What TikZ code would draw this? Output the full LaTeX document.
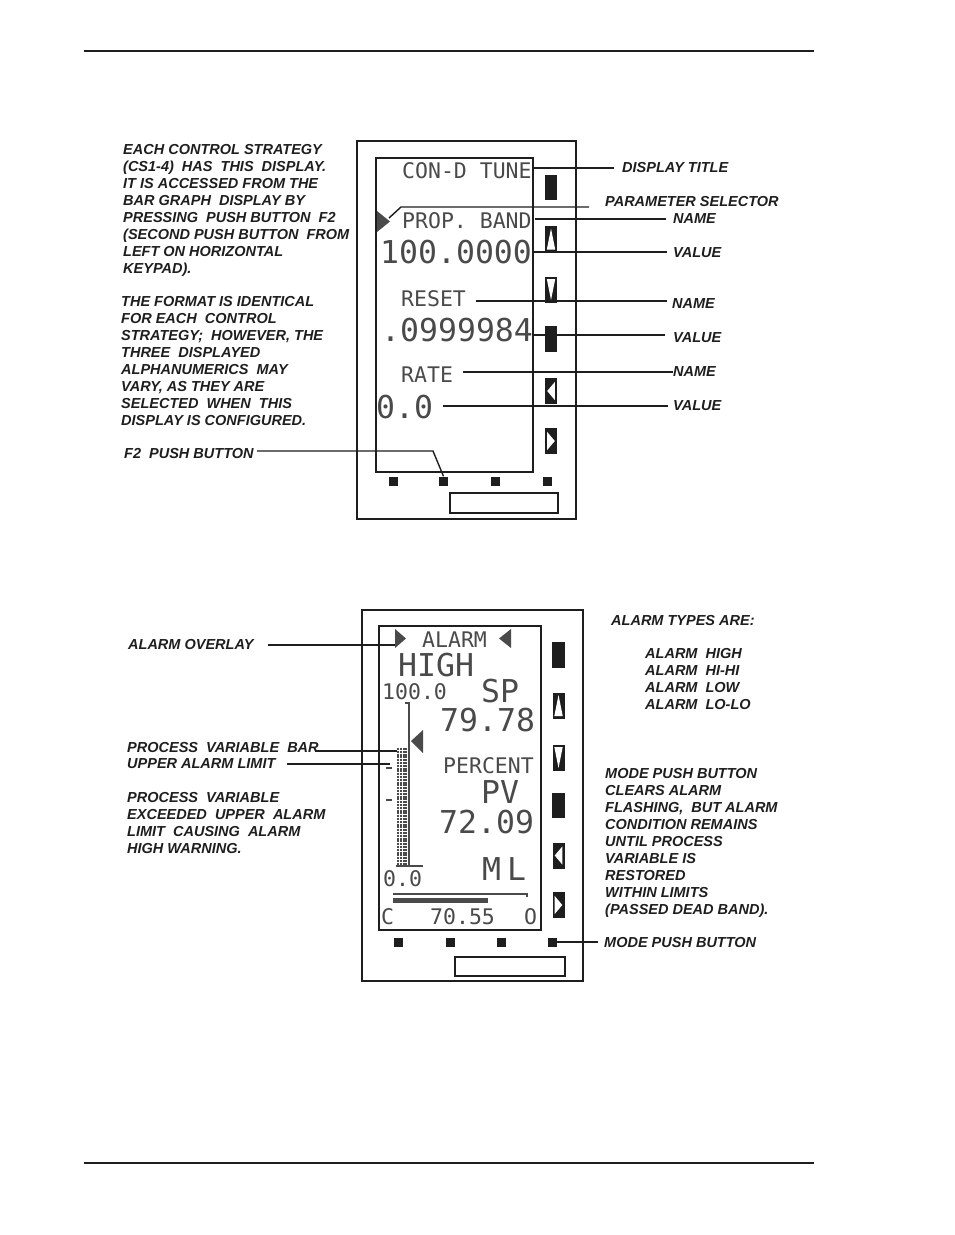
\documentclass[tikz,border=0pt]{standalone}
\usepackage{fontspec}
\setmainfont{Liberation Sans}
\newfontfamily\lcdfont{DejaVu Sans Mono}
\definecolor{ink}{HTML}{1E1E1E}
\definecolor{lcd}{HTML}{4A4A4A}
\newcommand\lblfont{\fontsize{14.5}{17}\selectfont\bfseries\itshape}
\tikzset{
  lbl/.style={font=\lblfont, inner sep=0pt, anchor=west, text height=10.4pt, text depth=0pt, text=ink},
  para/.style={font=\lblfont, inner sep=0pt, anchor=north west, align=left, text=ink},
  lcds/.style={font=\lcdfont\fontsize{21.5}{21.5}\selectfont, inner sep=0pt, anchor=west, text height=15.6pt, text depth=0pt, text=lcd},
  lcdb/.style={font=\lcdfont\fontsize{31.5}{31.5}\selectfont, inner sep=0pt, anchor=west, text height=23pt, text depth=0pt, text=lcd},
  devframe/.style={draw=ink, line width=1.5pt},
  leader/.style={draw=ink, line width=1.4pt},
  lcdline/.style={draw=lcd, line width=1.3pt},
  sq/.style={fill=ink, minimum width=9pt, minimum height=9pt, inner sep=0pt},
  upbtn/.pic={\fill[ink] (-6,-13) rectangle (6,13); \fill[white] (0,-10.5) -- (4.2,10.5) -- (-4.2,10.5) -- cycle;},
  dnbtn/.pic={\fill[ink] (-6,-13) rectangle (6,13); \fill[white] (0,10.5) -- (4.2,-10.5) -- (-4.2,-10.5) -- cycle;},
  ltbtn/.pic={\fill[ink] (-6,-13) rectangle (6,13); \fill[white] (-3.8,0) -- (3.8,-9) -- (3.8,9) -- cycle;},
  rtbtn/.pic={\fill[ink] (-6,-13) rectangle (6,13); \fill[white] (3.8,0) -- (-3.8,-9) -- (-3.8,9) -- cycle;},
}
\begin{document}
\begin{tikzpicture}[x=1pt,y=-1pt]
\useasboundingbox (0,0) rectangle (954,1235);
\fill[white] (0,0) rectangle (954,1235);
% page rules
\draw[ink, line width=2pt] (84,51) -- (814,51);
\draw[ink, line width=2pt] (84,1163) -- (814,1163);

% ================= TOP DEVICE =================
\draw[devframe] (357,141) rectangle (576,519);
\draw[devframe] (376,158) rectangle (533,472);
\fill[ink] (545,175) rectangle (557,200);
\pic at (551,239) {upbtn};
\pic at (551,289.5) {dnbtn};
\fill[ink] (545,326) rectangle (557,352);
\pic at (551,391) {ltbtn};
\pic at (551,441) {rtbtn};
\node[sq] (tb1) at (393.5,481) {};
\node[sq] (tb2) at (443.5,481) {};
\node[sq] (tb3) at (495.5,481) {};
\node[sq] (tb4) at (547.5,481) {};
\draw[devframe] (450,493) rectangle (558,513);

% display contents
\fill[lcd] (377,211) -- (390,221.5) -- (377,232) -- cycle;
\node[lcds] (tTitle) at (402,171) {CON-D TUNE};
\node[lcds] (tProp) at (402,221) {PROP. BAND};
\node[lcdb] (tV1) at (380,252) {100.0000};
\node[lcds] (tReset) at (401,299) {RESET};
\node[lcdb] (tV2) at (381,330) {.0999984};
\node[lcds] (tRate) at (401,375) {RATE};
\node[lcdb] (tV3) at (376,407) {0.0};

% top-left text
\node[para] (pTop1) at (123,142.3) {\strut EACH CONTROL STRATEGY\\
(CS1-4)~ HAS~ THIS~ DISPLAY.\\
IT IS ACCESSED FROM THE\\
BAR GRAPH~ DISPLAY BY\\
PRESSING~ PUSH BUTTON~ F2\\
(SECOND PUSH BUTTON~ FROM\\
LEFT ON HORIZONTAL\\
KEYPAD).};
\node[para] (pTop2) at (121,294.3) {\strut THE FORMAT IS IDENTICAL\\
FOR EACH~ CONTROL\\
STRATEGY;~ HOWEVER, THE\\
THREE~ DISPLAYED\\
ALPHANUMERICS~ MAY\\
VARY, AS THEY ARE\\
SELECTED~ WHEN~ THIS\\
DISPLAY IS CONFIGURED.};
\node[lbl] (lF2) at (124,453) {F2~ PUSH BUTTON};
\coordinate (f2s) at (257,451);
\draw[leader] (f2s) -- (433,451) -- (tb2.north);

% top-right labels
\node[lbl] (lDT) at (622,167) {DISPLAY TITLE};
\node[lbl] (lPS) at (605,201) {PARAMETER SELECTOR};
\node[lbl] (lN1) at (673,218) {NAME};
\node[lbl] (lV1) at (673,252) {VALUE};
\node[lbl] (lN2) at (672,303) {NAME};
\node[lbl] (lV2) at (673,337) {VALUE};
\node[lbl] (lN3) at (673,371) {NAME};
\node[lbl] (lV3) at (673,405) {VALUE};

\coordinate (sDT) at (534,168);
\coordinate (selTip) at (389,218);
\coordinate (sN1) at (535,219);
\coordinate (sV1) at (534,252);
\coordinate (sN2) at (476,301);
\coordinate (sV2) at (532,335);
\coordinate (sN3) at (463,372);
\coordinate (sV3) at (443,406);
\draw[leader] (sDT) -- ([xshift=-8pt]sDT -| lDT.west);
\draw[leader] (selTip) -- ++(12,-11) coordinate (selK) -- ([xshift=-16pt]selK -| lPS.west);
\draw[leader] (sN1) -- ([xshift=-7pt]sN1 -| lN1.west);
\draw[leader] (sV1) -- ([xshift=-6pt]sV1 -| lV1.west);
\draw[leader] (sN2) -- ([xshift=-5pt]sN2 -| lN2.west);
\draw[leader] (sV2) -- ([xshift=-8pt]sV2 -| lV2.west);
\draw[leader] (sN3) -- (sN3 -| lN3.west);
\draw[leader] (sV3) -- ([xshift=-5pt]sV3 -| lV3.west);

% ================= BOTTOM DEVICE =================
\draw[devframe] (362,610) rectangle (583,981);
\draw[devframe] (379,626) rectangle (541,930);
\fill[ink] (552,642) rectangle (565,668);
\pic at (558.5,705.5) {upbtn};
\pic at (558.5,757.5) {dnbtn};
\fill[ink] (552,793) rectangle (565,818);
\pic at (558.5,855.5) {ltbtn};
\pic at (558.5,905) {rtbtn};
\node[sq] (bb1) at (398.5,942) {};
\node[sq] (bb2) at (450,942) {};
\node[sq] (bb3) at (501.5,942) {};
\node[sq] (bb4) at (552.5,942) {};
\draw[devframe] (455,957) rectangle (565,976);

% display contents
\fill[lcd] (395,629) -- (406,638.5) -- (395,648) -- cycle;
\fill[lcd] (511,629) -- (499,638.5) -- (511,648) -- cycle;
\node[lcds] (bAlarm) at (422,640) {ALARM};
\node[lcdb] (bHigh) at (398,665) {HIGH};
\node[lcds] (bHundred) at (382,692) {100.0};
\node[lcdb] (bSP) at (481,691) {SP};
\node[lcdb] (bSPv) at (440,720) {79.78};
\node[lcds] (bPct) at (443,766) {PERCENT};
\node[lcdb] (bPV) at (481,792) {PV};
\node[lcdb] (bPVv) at (439,822) {72.09};
\node[lcdb] (bML) at (482,869) {M\kern6pt L};
\node[lcds] (bZero) at (383,879) {0.0};
\node[lcds] (bC) at (381,917) {C};
\node[lcds] (bOut) at (430,917) {70.55};
\node[lcds] (bO) at (524,917) {O};
% bar graph
\draw[lcdline] (405,703) -- (409,703) -- (409,866);
\foreach \x in {398,400.8,403.6,406.4}
  \draw[lcd, line width=2pt, dash pattern=on 2pt off 0.8pt] (\x,748) -- (\x,866);
\draw[lcdline] (396,866) -- (423,866);
\draw[lcd, line width=1.8pt] (386,768) -- (392,768);
\draw[lcd, line width=1.8pt] (386,800) -- (392,800);
\fill[lcd] (411,741) -- (423,730) -- (423,753) -- cycle;
\draw[lcd, line width=1.2pt] (393,894) -- (527,894) -- (527,897);
\fill[lcd] (393,898) rectangle (488,903);

% bottom-left labels
\node[lbl] (lAO) at (128,644) {ALARM OVERLAY};
\node[lbl] (lPVB) at (127,747) {PROCESS~ VARIABLE~ BAR};
\node[lbl] (lUAL) at (127,763) {UPPER ALARM LIMIT};
\node[para] (pPV) at (127,790.3) {\strut PROCESS~ VARIABLE\\
EXCEEDED~ UPPER~ ALARM\\
LIMIT~ CAUSING~ ALARM\\
HIGH WARNING.};
\coordinate (aoEnd) at (395,645);
\coordinate (pvbEnd) at (397,751);
\coordinate (ualEnd) at (390,764);
\draw[leader] (aoEnd) -- ([xshift=14pt]aoEnd -| lAO.east);
\draw[leader] (pvbEnd) -- ([xshift=-3pt]pvbEnd -| lPVB.east);
\draw[leader] (ualEnd) -- ([xshift=11pt]ualEnd -| lUAL.east);

% bottom-right labels
\node[lbl] (lAT) at (611,620) {ALARM TYPES ARE:};
\node[para] (pTypes) at (645,646.3) {\strut ALARM~ HIGH\\
ALARM~ HI-HI\\
ALARM~ LOW\\
ALARM~ LO-LO};
\node[para] (pMode) at (605,766.3) {\strut MODE PUSH BUTTON\\
CLEARS ALARM\\
FLASHING,~ BUT ALARM\\
CONDITION REMAINS\\
UNTIL PROCESS\\
VARIABLE IS\\
RESTORED\\
WITHIN LIMITS\\
(PASSED DEAD BAND).};
\node[lbl] (lMPB) at (604,942) {MODE PUSH BUTTON};
\draw[leader] (bb4.east) -- ([xshift=-6pt]bb4.east -| lMPB.west);
\end{tikzpicture}
\end{document}
